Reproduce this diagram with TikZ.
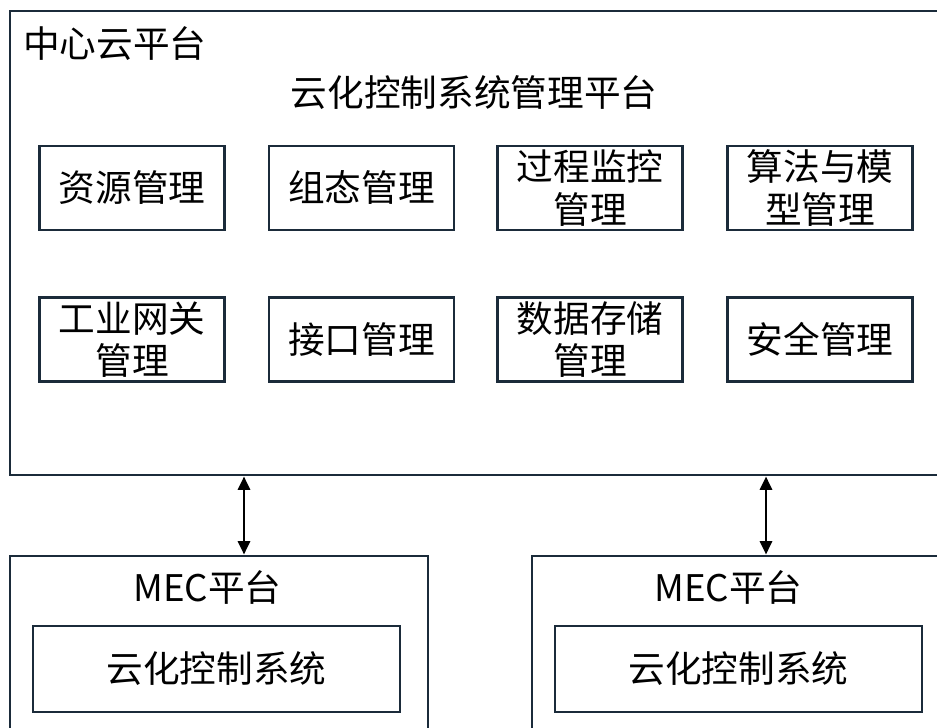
\documentclass[tikz,border=0pt]{standalone}
\usepackage{fontspec}
\setmainfont{Noto Sans CJK SC}
\usetikzlibrary{arrows.meta}
\definecolor{bline}{HTML}{1B2B3A}
\tikzset{
  frame/.style={draw=bline, line width=2.2pt, rectangle, inner sep=0pt},
  modbox/.style={frame, minimum width=185*0.75pt, minimum height=84*0.75pt, align=center, font=\fontsize{27.5pt}{32pt}\selectfont},
  lbl/.style={inner sep=0pt, font=\fontsize{27.5pt}{32pt}\selectfont},
  arr/.style={draw=black, line width=2.1pt, {Triangle[width=9pt,length=10pt]}-{Triangle[width=9pt,length=10pt]}}
}
\begin{document}
\begin{tikzpicture}[x=0.75pt, y=-0.75pt]
\clip (0,0) rectangle (937,727);
\fill[white] (0,0) rectangle (937,727);
% central platform
\node[frame, minimum width=950*0.75pt, minimum height=464*0.75pt] (cloud) at (485,243) {};
\node[lbl, anchor=west] (cloudlbl) at (23,44) {中心云平台};
\node[lbl] (title) at (474,93) {云化控制系统管理平台};
% modules
\node[modbox] (m1) at (132,188) {资源管理};
\node[modbox] (m2) at (361.5,188) {组态管理};
\node[modbox] (m3) at (590,188) {过程监控\\管理};
\node[modbox] (m4) at (820,188) {算法与模\\型管理};
\node[modbox] (m5) at (132,339.5) {工业网关\\管理};
\node[modbox] (m6) at (361.5,339.5) {接口管理};
\node[modbox] (m7) at (590,339.5) {数据存储\\管理};
\node[modbox] (m8) at (820,339.5) {安全管理};
% MEC platforms
\node[frame, minimum width=418*0.75pt, minimum height=204*0.75pt] (mecL) at (219,658) {};
\node[frame, minimum width=428*0.75pt, minimum height=204*0.75pt] (mecR) at (746,658) {};
\node[lbl] (mecLlbl) at (207.5,587) {MEC平台};
\node[lbl] (mecRlbl) at (728.5,587) {MEC平台};
\node[frame, lbl, minimum width=367*0.75pt, minimum height=86*0.75pt] (sysL) at (216.5,669) {云化控制系统};
\node[frame, lbl, minimum width=367*0.75pt, minimum height=86*0.75pt] (sysR) at (738.5,669) {云化控制系统};
% arrows
\coordinate (a1) at (244,0);
\coordinate (a2) at (766,0);
\draw[arr] (a1 |- cloud.south) -- (a1 |- mecL.north);
\draw[arr] (a2 |- cloud.south) -- (a2 |- mecR.north);
\end{tikzpicture}
\end{document}
